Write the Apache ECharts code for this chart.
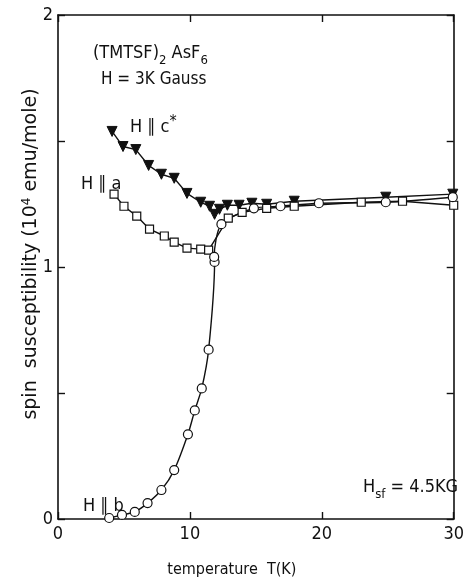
<!DOCTYPE html>
<html>
<head>
<meta charset="utf-8">
<script src="https://cdn.jsdelivr.net/npm/echarts@6/dist/echarts.min.js"></script>
<style>
html,body{margin:0;padding:0;background:#fff;}
#chart{width:467px;height:583px;}
</style>
</head>
<body>
<div id="chart"></div>
<script>
// H || c*  (filled down-triangles)
const tempC = [4.1, 4.93, 5.9, 6.87, 7.84, 8.81, 9.78, 10.82, 11.49, 11.87, 12.24, 12.84, 13.73, 14.7, 15.82, 17.91, 24.85, 29.93];
const chiC  = [1.538, 1.478, 1.466, 1.403, 1.368, 1.352, 1.292, 1.257, 1.241, 1.209, 1.229, 1.245, 1.245, 1.253, 1.249, 1.261, 1.277, 1.289];
// H || a  (open squares)
const tempA = [4.25, 5.0, 5.97, 6.94, 8.06, 8.81, 9.78, 10.82, 11.42, 12.91, 13.96, 15.82, 17.91, 22.99, 26.12, 30.0];
const chiA  = [1.289, 1.241, 1.202, 1.15, 1.123, 1.099, 1.075, 1.071, 1.067, 1.194, 1.217, 1.233, 1.241, 1.257, 1.261, 1.245];
// H || b  (open circles)
const tempB = [3.88, 4.85, 5.82, 6.79, 7.84, 8.81, 9.85, 10.37, 10.9, 11.42, 11.87, 11.84, 12.39, 14.85, 16.87, 19.78, 24.85, 29.93];
const chiB  = [0.004, 0.016, 0.028, 0.063, 0.115, 0.194, 0.336, 0.431, 0.518, 0.672, 1.02, 1.04, 1.17, 1.233, 1.241, 1.253, 1.257, 1.277];

const xTicks = [0, 10, 20, 30];
const yTickLabels = [0, 1, 2];

const FONT = 'DejaVu Sans Condensed';
const zip = (a, b) => a.map((v, i) => [v, b[i]]);

const chart = echarts.init(document.getElementById('chart'), null, {renderer: 'canvas'});
const axisLine = {show: true, onZero: false, lineStyle: {color: '#111', width: 1.6}};
const tickIn = {show: true, inside: true, length: 7, lineStyle: {color: '#111', width: 1.4}};

chart.setOption({
  backgroundColor: '#fff',
  animation: false,
  grid: {left: 58, right: 7, top: 15, bottom: 58, containLabel: false},
  xAxis: [{
    type: 'value', min: 0, max: 30, interval: 10,
    axisLine: axisLine, axisTick: tickIn, splitLine: {show: false},
    axisLabel: {color: '#111', fontFamily: FONT, fontSize: 18, margin: 6,
      formatter: v => xTicks.includes(v) ? String(v) : ''},
    name: 'temperature  T(K)', nameLocation: 'middle', nameGap: 43,
    nameTextStyle: {color: '#111', fontFamily: FONT, fontSize: 16, padding: [0, 48, 0, 0]}
  }, {
    type: 'value', position: 'top', min: 0, max: 30, interval: 10,
    axisLine: axisLine, axisTick: tickIn, axisLabel: {show: false}, splitLine: {show: false}
  }],
  yAxis: [{
    type: 'value', min: 0, max: 2, interval: 0.5,
    axisLine: axisLine, axisTick: tickIn, splitLine: {show: false},
    axisLabel: {color: '#111', fontFamily: FONT, fontSize: 18, margin: 5,
      formatter: v => yTickLabels.includes(v) ? String(v) : ''},
    name: '{n|spin  susceptibility (10}{s|4}{n| emu/mole)}', nameLocation: 'middle', nameGap: 17, nameRotate: 90,
    nameMoveOverlap: false,
    nameTextStyle: {color: '#111', padding: [0, 0, 0, 26], rich: {
      n: {fontFamily: 'DejaVu Sans', fontSize: 19, color: '#111'},
      s: {fontFamily: 'DejaVu Sans', fontSize: 12, color: '#111', verticalAlign: 'top', padding: [0, 0, 8, 0]}
    }}
  }, {
    type: 'value', position: 'right', min: 0, max: 2, interval: 0.5,
    axisLine: axisLine, axisTick: tickIn, axisLabel: {show: false}, splitLine: {show: false}
  }],
  series: [{
    name: 'H || c*', type: 'line', data: zip(tempC, chiC),
    symbol: 'triangle', symbolRotate: 180, symbolSize: 10,
    lineStyle: {color: '#111', width: 1.4},
    itemStyle: {color: '#111', borderColor: '#111', borderWidth: 1}
  }, {
    name: 'H || a', type: 'line', data: zip(tempA, chiA),
    symbol: 'rect', symbolSize: 8,
    lineStyle: {color: '#111', width: 1.4},
    itemStyle: {color: '#fff', borderColor: '#111', borderWidth: 1.2}
  }, {
    name: 'H || b', type: 'line', data: zip(tempB, chiB),
    symbol: 'circle', symbolSize: 9, smooth: 0.25,
    lineStyle: {color: '#111', width: 1.4},
    itemStyle: {color: '#fff', borderColor: '#111', borderWidth: 1.2}
  }],
  graphic: [
    {type: 'text', left: 93, top: 44, style: {
      text: '{n|(TMTSF)}{s|2}{n| AsF}{s|6}', rich: {
        n: {fontFamily: FONT, fontSize: 18, fill: '#111', verticalAlign: 'top'},
        s: {fontFamily: FONT, fontSize: 13, fill: '#111', verticalAlign: 'bottom', padding: [10, 0, 0, 0]}
      }}},
    {type: 'text', left: 101, top: 71, style: {text: 'H = 3K Gauss', fontFamily: FONT, fontSize: 17, fill: '#111'}},
    {type: 'text', left: 130, top: 114, style: {
      text: '{n|H ∥ c}{s|*}', rich: {
        n: {fontFamily: FONT, fontSize: 18, fill: '#111', verticalAlign: 'bottom'},
        s: {fontFamily: FONT, fontSize: 16, fill: '#111', verticalAlign: 'top', padding: [0, 0, 6, 0]}
      }}},
    {type: 'text', left: 81, top: 175, style: {text: 'H ∥ a', fontFamily: FONT, fontSize: 18, fill: '#111'}},
    {type: 'text', left: 83, top: 497, style: {text: 'H ∥ b', fontFamily: FONT, fontSize: 18, fill: '#111'}},
    {type: 'text', left: 363, top: 478, style: {
      text: '{n|H}{s|sf}{n| = 4.5KG}', rich: {
        n: {fontFamily: FONT, fontSize: 18, fill: '#111', verticalAlign: 'top'},
        s: {fontFamily: FONT, fontSize: 13, fill: '#111', verticalAlign: 'bottom', padding: [10, 0, 0, 0]}
      }}}
  ]
});
</script>
</body>
</html>
